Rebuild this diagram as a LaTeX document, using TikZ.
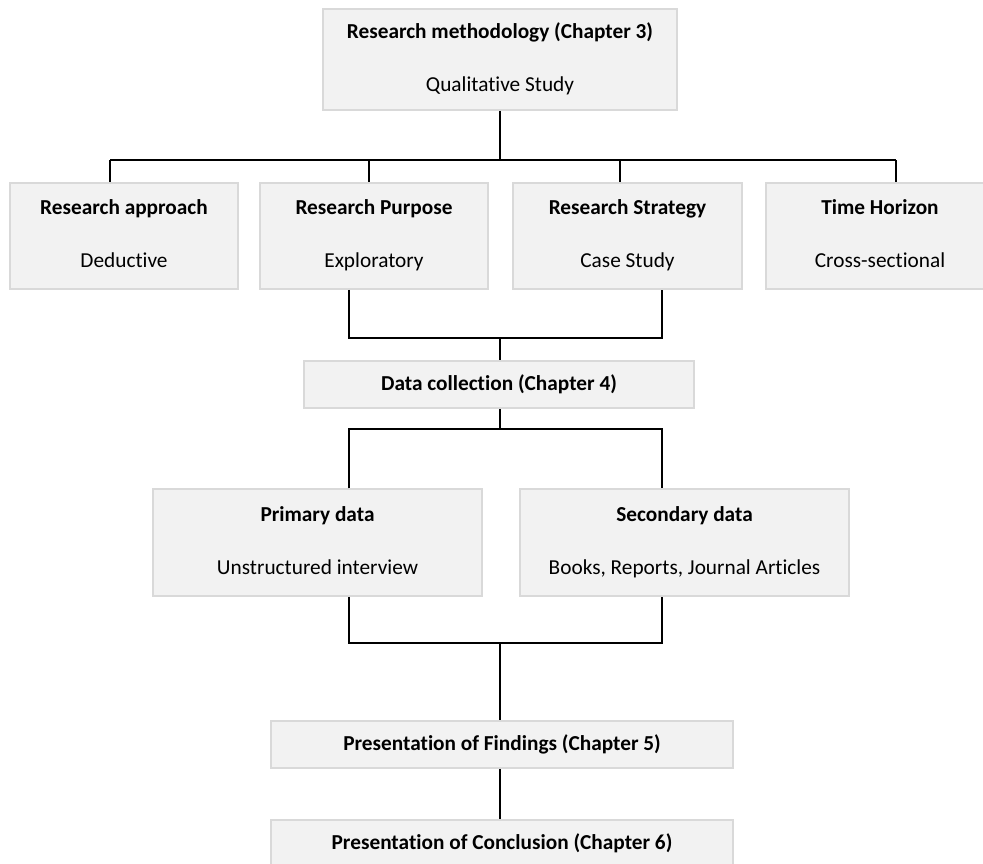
\documentclass[tikz,border=0pt]{standalone}
\usepackage{fontspec}
\setmainfont[Ligatures=NoCommon]{Carlito}
\definecolor{boxfill}{HTML}{F2F2F2}
\definecolor{boxline}{HTML}{D9D9D9}
\newcommand{\twolines}[2]{\strut\textbf{#1}\\[28pt]\strut#2}
\begin{document}
\begin{tikzpicture}[x=1pt, y=-1pt,
        box/.style={rectangle, draw=boxline, fill=boxfill, line width=1.5pt, inner sep=0pt,
            align=center, font=\fontsize{21.3}{25}\selectfont},
        tall/.style={minimum height=106pt},
        flat/.style={minimum height=47pt},
        link/.style={line width=1.6pt}]
    \useasboundingbox (0,0) rectangle (983,863);
    \clip (0,0) rectangle (983,863);
    \node[style=box, minimum width=354pt, minimum height=101pt] (meth) at (500, 59.5)
        {\twolines{Research methodology (Chapter 3)}{Qualitative Study}};
    \node[style=box, style=tall, minimum width=228pt] (appr) at (124, 236)
        {\twolines{Research approach}{Deductive}};
    \node[style=box, style=tall, minimum width=228pt] (purp) at (374, 236)
        {\twolines{Research Purpose}{Exploratory}};
    \node[style=box, style=tall, minimum width=229pt] (strat) at (627.5, 236)
        {\twolines{Research Strategy}{Case Study}};
    \node[style=box, style=tall, minimum width=228pt] (time) at (880, 236)
        {\twolines{Time Horizon}{Cross-sectional}};
    \node[style=box, style=flat, minimum width=390pt] (data) at (499, 384.5)
        {\textbf{Data collection (Chapter 4)}};
    \node[style=box, minimum width=329pt, minimum height=107pt] (prim) at (317.5, 542.5)
        {\twolines{Primary data}{Unstructured interview}};
    \node[style=box, minimum width=329pt, minimum height=107pt] (sec) at (684.5, 542.5)
        {\twolines{Secondary data}{Books, Reports, Journal Articles}};
    \node[style=box, style=flat, minimum width=462pt] (find) at (502, 744.5)
        {\textbf{Presentation of Findings (Chapter 5)}};
    \node[style=box, style=flat, minimum width=462pt] (conc) at (502, 843.5)
        {\textbf{Presentation of Conclusion (Chapter 6)}};

    % bus lines
    \coordinate (t1) at (110, 160);
    \coordinate (t2) at (369, 160);
    \coordinate (t3) at (620, 160);
    \coordinate (t4) at (896, 160);
    \coordinate (m1) at (349, 338);
    \coordinate (m2) at (662, 338);
    \coordinate (d1) at (349, 429);
    \coordinate (d2) at (662, 429);
    \coordinate (b1) at (349, 643);
    \coordinate (b2) at (662, 643);

    \draw[style=link] (meth.south -| 500,0) -- (meth.south |- t1);
    \draw[style=link] (t1) -- (t4);
    \draw[style=link] (t1) -- (t1 |- appr.north);
    \draw[style=link] (t2) -- (t2 |- purp.north);
    \draw[style=link] (t3) -- (t3 |- strat.north);
    \draw[style=link] (t4) -- (t4 |- time.north);
    \draw[style=link] (purp.south -| m1) -- (m1) -- (m2) -- (strat.south -| m2);
    \draw[style=link] (m1 -| 500,0) -- (data.north -| 500,0);
    \draw[style=link] (data.south -| 500,0) -- (d1 -| 500,0);
    \draw[style=link] (prim.north -| d1) -- (d1) -- (d2) -- (sec.north -| d2);
    \draw[style=link] (prim.south -| b1) -- (b1) -- (b2) -- (sec.south -| b2);
    \draw[style=link] (b1 -| 500,0) -- (find.north -| 500,0);
    \draw[style=link] (find.south -| 500,0) -- (conc.north -| 500,0);
\end{tikzpicture}
\end{document}
